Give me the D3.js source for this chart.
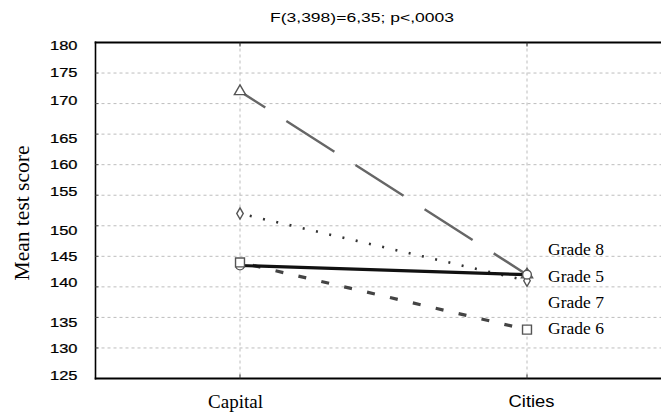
<!DOCTYPE html>
<html><head><meta charset="utf-8">
<script src="https://cdn.jsdelivr.net/npm/d3@7"></script>
<style>body{margin:0;background:#fff}svg{display:block}</style>
</head><body>
<svg id="chart" width="661" height="416"></svg>
<script>
const categories = ["Capital", "Cities"];
const seriesNames = ["Grade 8", "Grade 5", "Grade 7", "Grade 6"];
const grade8 = [172, 142];
const grade5 = [143.5, 142];
const grade7 = [152, 141];
const grade6 = [144, 133];
const yTicks = [125, 130, 135, 140, 145, 150, 155, 160, 165, 170, 175, 180];
const titleText = "F(3,398)=6,35; p<,0003";
const yLabel = "Mean test score";

// layout quirk of the reference: tick labels are slightly offset from their gridlines
const tickLabelNudge = { 180: 2.5, 175: -1.3, 170: -4, 165: 3.7, 160: -0.7, 155: -4.7, 150: 4.3, 145: -1, 140: -4.8, 135: 4.7, 130: 0, 125: -4 };

const W = 661, H = 416;
const L = 95.5, T = 42.5, B = 378.5, R = 661;
const svg = d3.select("#chart");

const y = d3.scaleLinear().domain([125, 180]).range([B, T]);
const x = d3.scalePoint().domain(categories).range([240, 527]);

// gridlines
svg.append("g").selectAll("line").data(yTicks.slice(1, -1)).join("line")
  .attr("x1", L).attr("x2", R).attr("y1", d => y(d)).attr("y2", d => y(d))
  .attr("stroke", "#bdbdbd").attr("stroke-width", 1).attr("stroke-dasharray", "3,3");
svg.append("g").selectAll("line").data(categories).join("line")
  .attr("x1", d => x(d)).attr("x2", d => x(d)).attr("y1", T).attr("y2", B)
  .attr("stroke", "#bdbdbd").attr("stroke-width", 1).attr("stroke-dasharray", "3,3");

// frame
svg.append("line").attr("x1", L).attr("x2", L).attr("y1", T - 1).attr("y2", B + 1).attr("stroke", "#000").attr("stroke-width", 1.6);
svg.append("line").attr("x1", L - 0.8).attr("x2", R).attr("y1", T).attr("y2", T).attr("stroke", "#000").attr("stroke-width", 2);
svg.append("line").attr("x1", L - 0.8).attr("x2", R).attr("y1", B).attr("y2", B).attr("stroke", "#000").attr("stroke-width", 2);
// small ticks at category positions
svg.append("g").selectAll("line").data(categories).join("line")
  .attr("x1", d => x(d)).attr("x2", d => x(d)).attr("y1", T).attr("y2", T + 4).attr("stroke", "#333");
svg.append("g").selectAll("line").data(categories).join("line")
  .attr("x1", d => x(d)).attr("x2", d => x(d)).attr("y1", B - 4).attr("y2", B).attr("stroke", "#333");
// short inward tick marks on the left frame
svg.append("g").selectAll("line").data(yTicks.slice(1, -1)).join("line")
  .attr("x1", L).attr("x2", L + 3).attr("y1", d => y(d)).attr("y2", d => y(d))
  .attr("stroke", "#555").attr("stroke-width", 1);

// y axis labels
const yAxis = svg.append("g").attr("transform", `translate(${L},0)`)
  .call(d3.axisLeft(y).tickValues(yTicks).tickSize(0).tickPadding(0).tickFormat(d3.format("d")));
yAxis.select(".domain").remove();
yAxis.selectAll("text")
  .attr("x", -18 / 1.22).attr("y", d => tickLabelNudge[d] || 0).attr("dy", "0.36em")
  .attr("transform", "scale(1.22,1)")
  .style("font-family", "'Liberation Sans', Arial, sans-serif")
  .style("font-size", "13.5px").attr("fill", "#000")
  .attr("stroke", "#000").attr("stroke-width", 0.25);

// x axis labels
const xAxis = svg.append("g").attr("transform", `translate(0,${B})`)
  .call(d3.axisBottom(x).tickSize(0).tickPadding(0));
xAxis.select(".domain").remove();
xAxis.selectAll("text").attr("y", 0).attr("dy", 0).attr("fill", "#000")
  .each(function (d) {
    const t = d3.select(this);
    if (d === "Capital") {
      t.attr("x", -5).attr("y", 29.5)
        .style("font-family", "'Liberation Serif', 'Times New Roman', serif").style("font-size", "19px");
    } else {
      t.attr("x", 4 / 1.15).attr("y", 28.5).attr("transform", "scale(1.15,1)")
        .style("font-family", "'Liberation Sans', Arial, sans-serif").style("font-size", "16px");
    }
  });

// title
svg.append("text").attr("x", 362).attr("y", 22).attr("text-anchor", "middle")
  .attr("textLength", 184).attr("lengthAdjust", "spacingAndGlyphs")
  .style("font-family", "'Liberation Sans', Arial, sans-serif").style("font-size", "13.5px")
  .text(titleText);

// y label
svg.append("text").attr("transform", `translate(29,213) rotate(-90)`).attr("text-anchor", "middle")
  .style("font-family", "'Liberation Serif', 'Times New Roman', serif").style("font-size", "21.5px")
  .text(yLabel);

// series
const series = [
  { name: "Grade 8", values: grade8, stroke: "#666", width: 2.4, dash: "57,25", offset: 27, sym: d3.symbolTriangle, size: 55 },
  { name: "Grade 7", values: grade7, stroke: "#333", width: 2.6, dash: "2,11.6", offset: -10, sym: d3.symbolDiamond, size: 36 },
  { name: "Grade 6", values: grade6, stroke: "#444", width: 3.2, dash: "8,15.5", offset: -13, sym: d3.symbolSquare, size: 80 },
  { name: "Grade 5", values: grade5, stroke: "#111", width: 3.2, dash: null, offset: 0, sym: d3.symbolCircle, size: 60 }
];
const line = d3.line().x((d, i) => x(categories[i])).y(d => y(d));
svg.append("g").selectAll("path").data(series).join("path")
  .attr("d", s => line(s.values))
  .attr("fill", "none").attr("stroke", s => s.stroke).attr("stroke-width", s => s.width)
  .attr("stroke-dasharray", s => s.dash).attr("stroke-dashoffset", s => s.offset);

// markers (order: triangles, diamonds, circles, squares)
const markerOrder = [series[0], series[1], series[3], series[2]];
markerOrder.forEach(s => {
  svg.append("g").selectAll("path").data(s.values).join("path")
    .attr("transform", (d, i) => `translate(${x(categories[i])},${y(d)})`)
    .attr("d", d3.symbol().type(s.sym).size(s.size)())
    .attr("fill", "#fff").attr("stroke", "#555").attr("stroke-width", 1.4);
});

// legend labels
const legendOrder = ["Grade 8", "Grade 5", "Grade 7", "Grade 6"];
svg.append("g").selectAll("text").data(legendOrder).join("text")
  .attr("x", 548).attr("y", (d, i) => 255.4 + i * 26.3)
  .style("font-family", "'Liberation Serif', 'Times New Roman', serif").style("font-size", "17.5px")
  .text(d => d);
</script>
</body></html>
